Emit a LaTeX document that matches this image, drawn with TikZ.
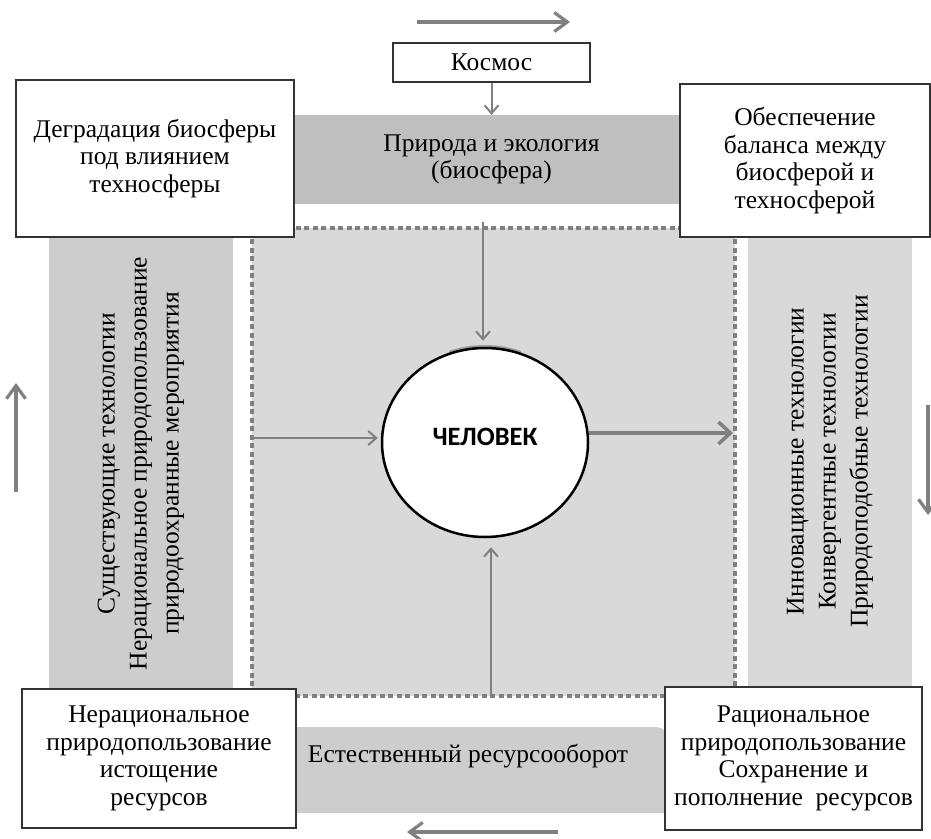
\documentclass[tikz,border=0pt]{standalone}
\usepackage{fontspec}
\setmainfont{Liberation Serif}
\newfontfamily\calfont{Carlito}
\usetikzlibrary{arrows.meta,shapes.geometric}

\definecolor{bandDark}{HTML}{BFBFBF}
\definecolor{bandMid}{HTML}{CDCDCD}
\definecolor{bandLight}{HTML}{D9D9D9}
\definecolor{flowGray}{HTML}{808080}

\begin{document}
\begin{tikzpicture}[x = 1pt, y = -1pt,
		txt/.style = {font = \fontsize{25.5}{27.5}\selectfont, align = center},
		box/.style = {txt, draw = black!80, line width = 1.2pt, fill = white, inner sep = 0pt},
		band/.style = {txt, inner sep = 0pt},
		vband/.style = {band, rotate = 90, font = \fontsize{25.5}{32}\selectfont},
		flow/.style = {draw = flowGray, line width = 2pt, -{Straight Barb[length = 8pt, width = 14pt]}},
		cycle/.style = {draw = flowGray, line width = 3.2pt, -{Straight Barb[length = 13pt, width = 19pt]}},
		bigflow/.style = {draw = flowGray, line width = 3.5pt, -{Straight Barb[length = 12pt, width = 22pt]}}]
			\useasboundingbox (0,0) rectangle (931,838);
			
			% central field
			\node[draw = flowGray, fill = bandLight, line width = 4pt, dash pattern = on 5pt off 3.5pt, minimum width = 483, minimum height = 468] (sreda) at (493.5,462){};
			
			% bands
			\node[band, fill = bandDark, minimum width = 397, minimum height = 89] (priroda) at (491.5,159.5){Природа и экология\\(биосфера)};
			\node[vband, fill = bandMid, minimum width = 453, minimum height = 184] (sushch) at (141,463.5){Существующие технологии\\Нерациональное природопользование\\природоохранные мероприятия};
			\node[vband, fill = bandLight, minimum width = 449, minimum height = 164] (innov) at (830,461.5){Инновационные технологии\\Конвергентные технологии\\Природоподобные технологии};
			\fill[bandMid] (295,813) -- (295,727) -- (655,727) arc[start angle = 270, end angle = 360, radius = 15] -- (670,813) -- cycle;
			\node[band] (resurs) at (468,756){Естественный ресурсооборот};
			
			% boxes
			\node[box, minimum width = 197, minimum height = 39] (kosmos) at (491.5,62.5){Космос};
			\node[box, minimum width = 278, minimum height = 157] (degr) at (155,158.5){Деградация биосферы\\под влиянием\\техносферы};
			\node[box, minimum width = 250, minimum height = 153] (balans) at (805,160.5){Обеспечение\\баланса между\\биосферой и\\техносферой};
			\node[box, minimum width = 274, minimum height = 139] (irrat) at (159,758.5){Нерациональное\\природопользование\\истощение\\ресурсов};
			\node[box, minimum width = 257, minimum height = 143] (rat) at (793.5,758.5){Рациональное\\природопользование\\Сохранение и\\пополнение\ \ ресурсов};
			
			% man
			\coordinate (cc) at (485,442.5);
			\draw[flowGray, line width = 3pt, opacity = 0.7] ([shift = {(250:104 and 96)}]cc) arc[start angle = 250, end angle = 290, x radius = 104, y radius = 96];
			\node[draw, ellipse, fill = white, line width = 2.5pt, minimum width = 206, minimum height = 189,
				label = {[yshift = 6pt, font = \calfont\bfseries\fontsize{26.5}{30}\selectfont]center:ЧЕЛОВЕК}] (chel) at (cc){};
			
			% free ends of the arrows
			\coordinate (topL) at (417,22);
			\coordinate (topR) at (570,22);
			\coordinate (leftB) at (16,492);
			\coordinate (leftT) at (16,383);
			\coordinate (rightT) at (928,405);
			\coordinate (rightB) at (928,515);
			\coordinate (botR) at (558,832);
			\coordinate (botL) at (407,832);
			\coordinate (inT) at (483,222);
			\coordinate (inL) at (252,438);
			\coordinate (inB) at (491,695);
			\coordinate (outR) at (733,433);
			
			\draw[cycle] (topL) -- (topR); % top
			\draw[cycle] (leftB) -- (leftT); % left
			\draw[cycle] (rightT) -- (rightB); % right
			\draw[cycle] (botR) -- (botL); % bottom
			
			\draw[flow] (kosmos.south) -- (priroda.north);
			\draw[flow, shorten > = 6pt] (inT) -- (inT |- chel.north);
			\draw[flow, shorten > = 3pt] (inL) -- (inL -| chel.west);
			\draw[flow, shorten > = 9pt] (inB) -- (inB |- chel.south);
			\draw[bigflow] (outR -| chel.east) -- (outR);
		\end{tikzpicture}
\end{document}
